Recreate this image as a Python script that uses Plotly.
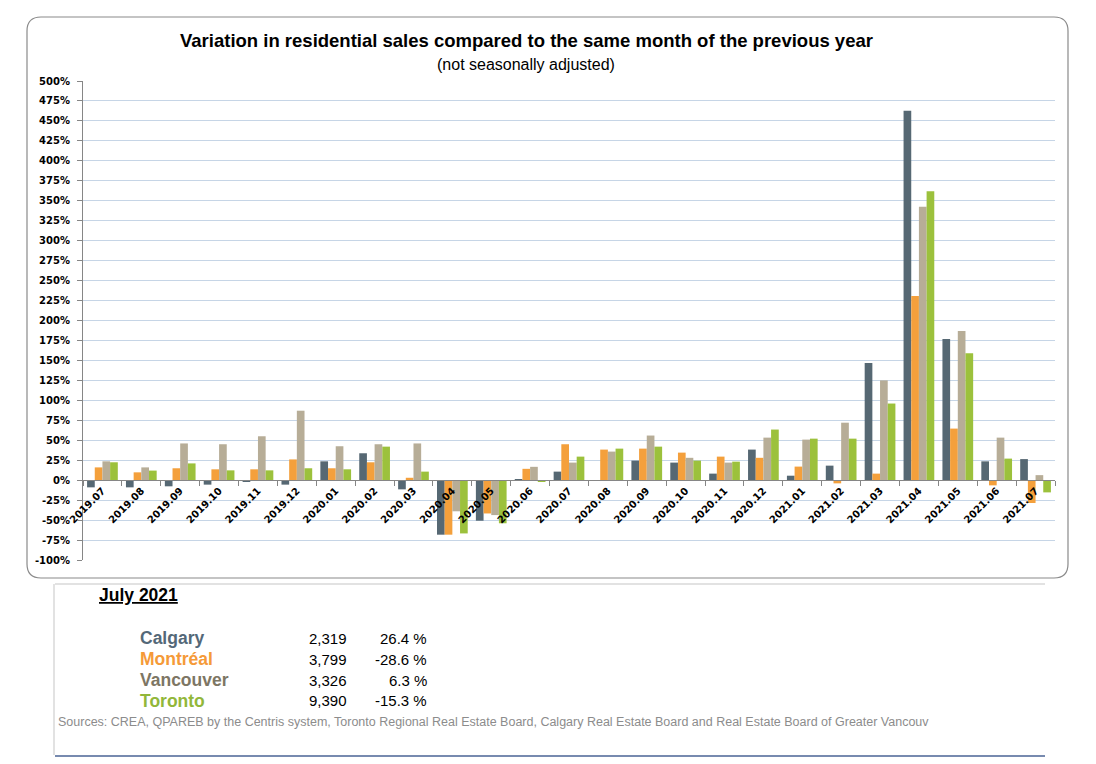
import plotly.graph_objects as go

months = ['2019.07', '2019.08', '2019.09', '2019.10', '2019.11', '2019.12',
          '2020.01', '2020.02', '2020.03', '2020.04', '2020.05', '2020.06',
          '2020.07', '2020.08', '2020.09', '2020.10', '2020.11', '2020.12',
          '2021.01', '2021.02', '2021.03', '2021.04', '2021.05', '2021.06', '2021.07']

calgary = [-9, -9, -7.7, -5.6, -1.5, -5.6, 23.6, 33.7, -11.5, -68.3, -50.8, 0.3,
           10.7, -1, 24.5, 22, 8.2, 38.3, 5.6, 18.2, 146.7, 462.8, 176.7, 23.6, 26.4]
montreal = [16, 9.8, 14.9, 13.6, 13.6, 26, 14.9, 22.4, 3, -68.3, -41.7, 14.2,
            45, 38.3, 39.5, 34.5, 29.5, 28, 17, -4, 8.2, 230.7, 64.6, -6.5, -28.6]
vancouver = [23.6, 16, 46, 45, 55, 87, 42.5, 45, 46, -39, -43.75, 16.7,
             22, 35.8, 55.9, 28, 22, 53.3, 50.8, 72, 125, 342.6, 187, 53.3, 6.3]
toronto = [22.4, 12, 21, 12.3, 12.3, 14.9, 13.6, 42, 10.7, -66.7, -54, -1.7,
           29.5, 39.5, 42, 24.5, 23.2, 63.4, 52, 52, 96, 361.9, 159, 27, -15.3]

series_names = ['Calgary', 'Montréal', 'Vancouver', 'Toronto']
series_values = [calgary, montreal, vancouver, toronto]
bar_colors = ['#566873', '#f4a03c', '#b7ad97', '#9cc13c']
text_colors = ['#546878', '#f59a38', '#7d7664', '#92b73a']

y_tick_values = list(range(-100, 501, 25))
y_tick_labels = [f'{v}%' for v in y_tick_values]

table_title = 'July 2021'
table_cities = ['Calgary', 'Montréal', 'Vancouver', 'Toronto']
table_counts = ['2,319', '3,799', '3,326', '9,390']
table_pcts = ['26.4 %', '-28.6 %', '6.3 %', '-15.3 %']

title_text = 'Variation in residential sales compared to the same month of the previous year'
subtitle_text = '(not seasonally adjusted)'
source_text = ('Sources: CREA, QPAREB by the Centris system, Toronto Regional Real Estate Board, '
               'Calgary Real Estate Board and Real Estate Board of Greater Vancouv')

Y_MIN, Y_MAX = -100, 500

# layout geometry (page pixels; the page body adds an 8px offset)
OFF = 8
W, H = 1096 - OFF, 764 - OFF
L, R = 83, 1055
T, B = 81, 560


def px(x):
    return (x - L) / (R - L)


def py(y):
    return (B - y) / (B - T)


fig = go.Figure()
for name, vals, col in zip(series_names, series_values, bar_colors):
    fig.add_trace(go.Bar(x=months, y=vals, name=name, marker=dict(color=col, line=dict(width=0))))

zero_pos = (0 - Y_MIN) / (Y_MAX - Y_MIN)

FN = 'Liberation Sans Narrow, Arial Narrow, Liberation Sans, sans-serif'
ann = []
ann.append(dict(text='<b>' + title_text + '</b>', x=px(526), y=py(40), xref='paper', yref='paper',
                showarrow=False, xanchor='center', yanchor='middle',
                font=dict(family=FN, size=18.5, color='#000000')))
ann.append(dict(text=subtitle_text, x=px(526), y=py(64), xref='paper', yref='paper',
                showarrow=False, xanchor='center', yanchor='middle',
                font=dict(family=FN, size=16, color='#000000')))
ann.append(dict(text='<b><u>' + table_title + '</u></b>', x=px(97), y=py(595), xref='paper', yref='paper',
                showarrow=False, xanchor='left', yanchor='middle',
                font=dict(family=FN, size=17.5, color='#000000')))
row_y = [638, 659, 680, 701]
for i in range(4):
    ann.append(dict(text='<b>' + table_cities[i] + '</b>', x=px(138), y=py(row_y[i]), xref='paper', yref='paper',
                    showarrow=False, xanchor='left', yanchor='middle',
                    font=dict(family=FN, size=17.5, color=text_colors[i])))
    ann.append(dict(text=table_counts[i], x=px(349), y=py(row_y[i]), xref='paper', yref='paper',
                    showarrow=False, xanchor='right', yanchor='middle',
                    font=dict(family=FN, size=15, color='#000000')))
    ann.append(dict(text=table_pcts[i], x=px(429), y=py(row_y[i]), xref='paper', yref='paper',
                    showarrow=False, xanchor='right', yanchor='middle',
                    font=dict(family=FN, size=15, color='#000000')))
ann.append(dict(text=source_text, x=px(56), y=py(722), xref='paper', yref='paper',
                showarrow=False, xanchor='left', yanchor='middle',
                font=dict(family='Liberation Sans, Arial, sans-serif', size=12.5, color='#8c8c8c')))

# rounded outer border
x0, x1, y0, y1, r = 27, 1068, 17, 578, 14
path = (f'M {px(x0 + r)},{py(y0)} L {px(x1 - r)},{py(y0)} Q {px(x1)},{py(y0)} {px(x1)},{py(y0 + r)} '
        f'L {px(x1)},{py(y1 - r)} Q {px(x1)},{py(y1)} {px(x1 - r)},{py(y1)} '
        f'L {px(x0 + r)},{py(y1)} Q {px(x0)},{py(y1)} {px(x0)},{py(y1 - r)} '
        f'L {px(x0)},{py(y0 + r)} Q {px(x0)},{py(y0)} {px(x0 + r)},{py(y0)} Z')
shapes = [
    dict(type='path', path=path, xref='paper', yref='paper', line=dict(color='#8a8a8a', width=1.2), layer='below'),
    dict(type='line', x0=px(55), x1=px(1045), y0=py(584), y1=py(584), xref='paper', yref='paper',
         line=dict(color='#d9d9d9', width=1.5)),
    dict(type='line', x0=px(54), x1=px(54), y0=py(584), y1=py(755), xref='paper', yref='paper',
         line=dict(color='#d9d9d9', width=1.5)),
    dict(type='line', x0=px(55), x1=px(1045), y0=py(756), y1=py(756), xref='paper', yref='paper',
         line=dict(color='#4a6394', width=1.5)),
]

fig.update_layout(
    width=W, height=H,
    margin=dict(l=L - OFF, r=W - (R - OFF), t=T - OFF, b=H - (B - OFF), pad=0),
    paper_bgcolor='#ffffff', plot_bgcolor='#ffffff',
    barmode='group', bargap=0.21, bargroupgap=0,
    showlegend=False,
    annotations=ann, shapes=shapes,
    xaxis=dict(type='category', anchor='free', position=zero_pos, showline=True, linecolor='#868686',
               linewidth=1, ticks='outside', ticklen=5, tickcolor='#868686', tickson='boundaries',
               showgrid=False, tickangle=-45, zeroline=False,
               tickfont=dict(family='DejaVu Sans', size=10, color='#000000', weight='bold')),
    yaxis=dict(range=[Y_MIN, Y_MAX], tickmode='array', tickvals=y_tick_values, ticktext=y_tick_labels,
               showline=True, linecolor='#868686', ticklabelstandoff=5,
               linewidth=1, ticks='outside', ticklen=5, tickcolor='#868686', showgrid=True,
               gridcolor='#c6d5e6', gridwidth=1, zeroline=False,
               tickfont=dict(family='DejaVu Sans', size=10, color='#000000', weight='bold')),
)

fig.write_html('out.html')
